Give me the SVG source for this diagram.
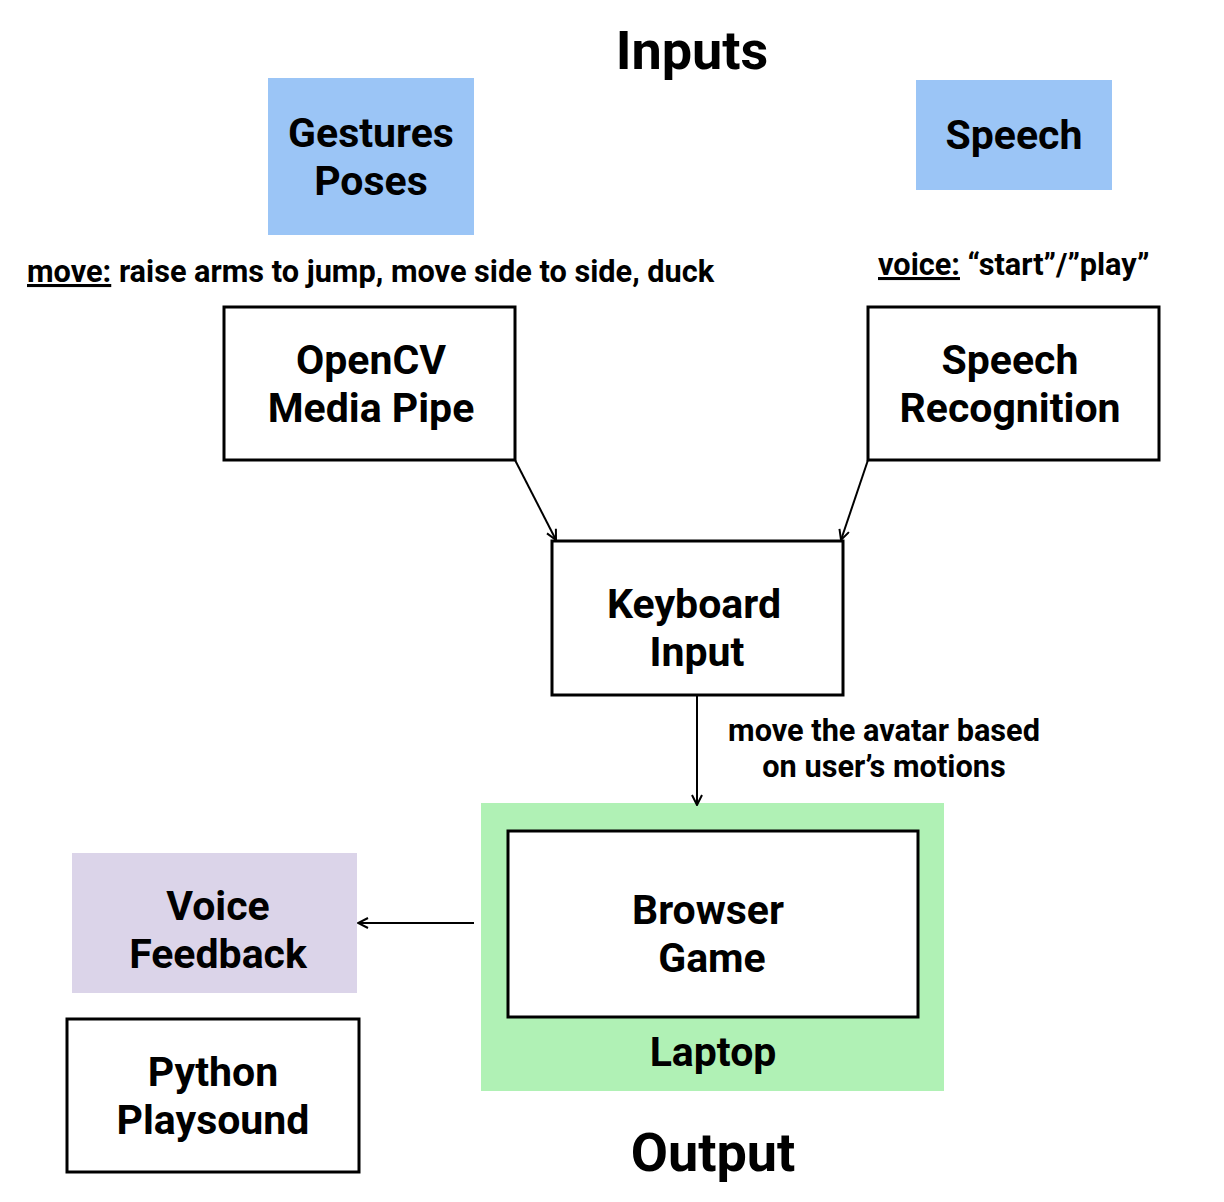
<svg xmlns="http://www.w3.org/2000/svg" width="1224" height="1202" viewBox="0 0 1224 1202">
<defs>
<style>
text{font-family:Roboto,"Liberation Sans",sans-serif;font-weight:bold;fill:#000;text-anchor:middle}
.t{font-size:54px}
.n{font-size:41px}
.l{font-size:30.7px}
.box{fill:#fff;stroke:#000;stroke-width:3}
.c{fill:none;stroke:#000;stroke-width:2}
</style>
<marker id="a" viewBox="0 0 12 12" refX="11" refY="6" markerWidth="12" markerHeight="12" markerUnits="userSpaceOnUse" orient="auto">
<path d="M1,1 L11,6 L1,11" fill="none" stroke="#000" stroke-width="2"/>
</marker>
</defs>
<rect width="1224" height="1202" fill="#fff"/>
<text class="t" x="692" y="69">Inputs</text>
<text class="t" x="713" y="1171">Output</text>
<g id="gestures">
<rect x="268" y="78" width="206" height="157" fill="#9bc5f6"/>
<text class="n" x="371" y="147">Gestures</text>
<text class="n" x="371" y="195">Poses</text>
</g>
<g id="speech">
<rect x="916" y="80" width="196" height="110" fill="#9bc5f6"/>
<text class="n" x="1014" y="149">Speech</text>
</g>
<text class="l" x="27" y="282" style="text-anchor:start"><tspan text-decoration="underline">move:</tspan> raise arms to jump, move side to side, duck</text>
<text class="l" x="878" y="275" style="text-anchor:start"><tspan text-decoration="underline">voice:</tspan> “start”/”play”</text>
<g id="opencv">
<rect class="box" x="224" y="307" width="291" height="153"/>
<text class="n" x="371" y="374">OpenCV</text>
<text class="n" x="371" y="422">Media Pipe</text>
</g>
<g id="speechrec">
<rect class="box" x="868" y="307" width="291" height="153"/>
<text class="n" x="1010" y="374">Speech</text>
<text class="n" x="1010" y="422">Recognition</text>
</g>
<g id="keyboard">
<rect class="box" x="552" y="541" width="291" height="154"/>
<text class="n" x="694" y="618">Keyboard</text>
<text class="n" x="697" y="666">Input</text>
</g>
<text class="l" x="884" y="741">move the avatar based</text>
<text class="l" x="884" y="777">on user’s motions</text>
<g id="laptop">
<rect x="481" y="803" width="463" height="288" fill="#b0f1b5"/>
<rect class="box" x="508" y="831" width="410" height="186"/>
<text class="n" x="708" y="924">Browser</text>
<text class="n" x="712" y="972">Game</text>
<text class="n" x="713" y="1066">Laptop</text>
</g>
<g id="voice">
<rect x="72" y="853" width="285" height="140" fill="#dbd4e9"/>
<text class="n" x="218" y="920">Voice</text>
<text class="n" x="218" y="968">Feedback</text>
</g>
<g id="python">
<rect class="box" x="67" y="1019" width="292" height="153"/>
<text class="n" x="213" y="1086">Python</text>
<text class="n" x="213" y="1134">Playsound</text>
</g>
<g id="connectors">
<line class="c" x1="515" y1="460" x2="556" y2="540" marker-end="url(#a)"/>
<line class="c" x1="868" y1="460" x2="841" y2="540" marker-end="url(#a)"/>
<line class="c" x1="697" y1="695" x2="697" y2="805" marker-end="url(#a)"/>
<line class="c" x1="474" y1="923" x2="358" y2="923" marker-end="url(#a)"/>
</g>
</svg>
